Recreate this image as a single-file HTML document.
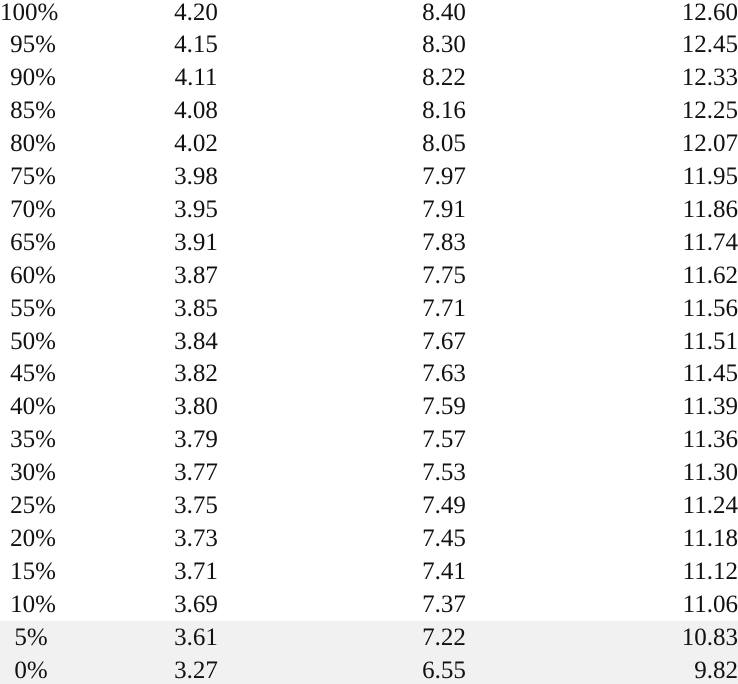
<!DOCTYPE html>
<html><head><meta charset="utf-8"><style>
html,body{margin:0;padding:0;background:#fff;}
#wrap{position:relative;width:738px;height:684px;overflow:hidden;font-family:"Liberation Serif",serif;font-size:25px;color:#111;}
.shade{position:absolute;left:0;top:621px;width:738px;height:63px;background:#f0f1f0;}
.c{position:absolute;height:33px;line-height:33px;white-space:nowrap;}
</style></head><body>
<div id="wrap">
<div class="shade"></div>
</div>
<script>
const pct=["100%","95%","90%","85%","80%","75%","70%","65%","60%","55%","50%","45%","40%","35%","30%","25%","20%","15%","10%","5%","0%"];
const colA=["4.20","4.15","4.11","4.08","4.02","3.98","3.95","3.91","3.87","3.85","3.84","3.82","3.80","3.79","3.77","3.75","3.73","3.71","3.69","3.61","3.27"];
const colB=["8.40","8.30","8.22","8.16","8.05","7.97","7.91","7.83","7.75","7.71","7.67","7.63","7.59","7.57","7.53","7.49","7.45","7.41","7.37","7.22","6.55"];
const colC=["12.60","12.45","12.33","12.25","12.07","11.95","11.86","11.74","11.62","11.56","11.51","11.45","11.39","11.36","11.30","11.24","11.18","11.12","11.06","10.83","9.82"];
const wrap=document.getElementById('wrap');
function cell(txt,y,css,name){
  const d=document.createElement('div');
  d.className='c';
  d.textContent=txt;
  d.style.top=y+'px';
  Object.assign(d.style,css);
  
  
  wrap.appendChild(d);
}
for(let i=0;i<pct.length;i++){
  const y=12+32.9*i-16.5;
  if(i>=19){cell(pct[i],y,{left:'1px',width:'60px',textAlign:'center'},'percentile-label');}
  else{cell(pct[i],y,{left:'0px',width:'56px',textAlign:'right'},'percentile-label');}
  cell(colA[i],y,{left:'146px',width:'100px',textAlign:'center'},'value-col-1');
  cell(colB[i],y,{left:'394px',width:'100px',textAlign:'center'},'value-col-2');
  cell(colC[i],y,{left:'600px',width:'138px',textAlign:'right'},'value-col-3');
}
</script>
</body></html>
